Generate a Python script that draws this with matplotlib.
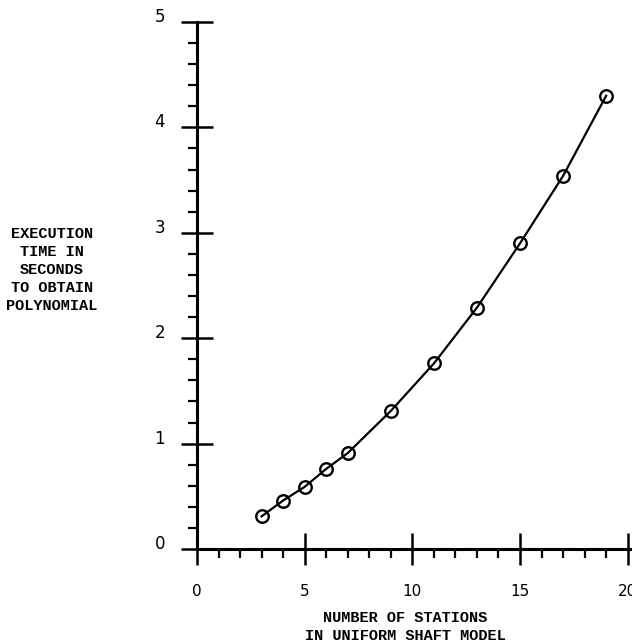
import matplotlib.pyplot as plt
from matplotlib.ticker import MultipleLocator

stations = [3, 4, 5, 6, 7, 9, 11, 13, 15, 17, 19]
exec_time = [0.31, 0.46, 0.59, 0.76, 0.91, 1.31, 1.76, 2.29, 2.90, 3.54, 4.30]

x_ticks = [0, 5, 10, 15, 20]
y_ticks = [0, 1, 2, 3, 4, 5]

ylabel_txt = "EXECUTION\nTIME IN\nSECONDS\nTO OBTAIN\nPOLYNOMIAL"
xlabel_txt = "NUMBER OF STATIONS\nIN UNIFORM SHAFT MODEL"

font = "Liberation Mono"

fig = plt.figure(figsize=(6.32, 6.42), dpi=100)
ax = fig.add_axes([197 / 632, 93 / 642, 435 / 632, 527 / 642])

ax.plot(stations, exec_time, color="black", lw=1.6, marker="o", ms=9,
        mfc="none", mec="black", mew=1.7)

ax.set_xlim(0, 20.2)
ax.set_ylim(0, 5)

for s in ["top", "right"]:
    ax.spines[s].set_visible(False)
for s in ["left", "bottom"]:
    ax.spines[s].set_linewidth(2.2)
ax.spines["left"].set_bounds(0, 5)

ax.set_xticks(x_ticks)
ax.set_yticks(y_ticks)
ax.set_xticklabels([str(v) for v in x_ticks], fontfamily="DejaVu Sans", fontsize=11)
ax.set_yticklabels([str(v) for v in y_ticks], fontfamily="DejaVu Sans", fontsize=12)
ax.xaxis.set_minor_locator(MultipleLocator(1))
ax.yaxis.set_minor_locator(MultipleLocator(0.2))

ax.tick_params(which="major", direction="inout", length=23, width=1.8)
ax.tick_params(which="minor", direction="out", length=6.5, width=1.6)
ax.tick_params(axis="y", which="major", pad=11.5)
ax.tick_params(axis="x", which="major", pad=14)

for lbl in ax.get_yticklabels():
    lbl.set_verticalalignment("baseline")

fig.text(52 / 632, 1 - 270 / 642, ylabel_txt, ha="center", va="center",
         fontfamily=font, fontsize=11, fontweight="bold", linespacing=1.35)
fig.text(405 / 632, 1 - 627 / 642, xlabel_txt, ha="center", va="center",
         fontfamily=font, fontsize=11, fontweight="bold", linespacing=1.35)

fig.savefig("out.png", dpi=100)
